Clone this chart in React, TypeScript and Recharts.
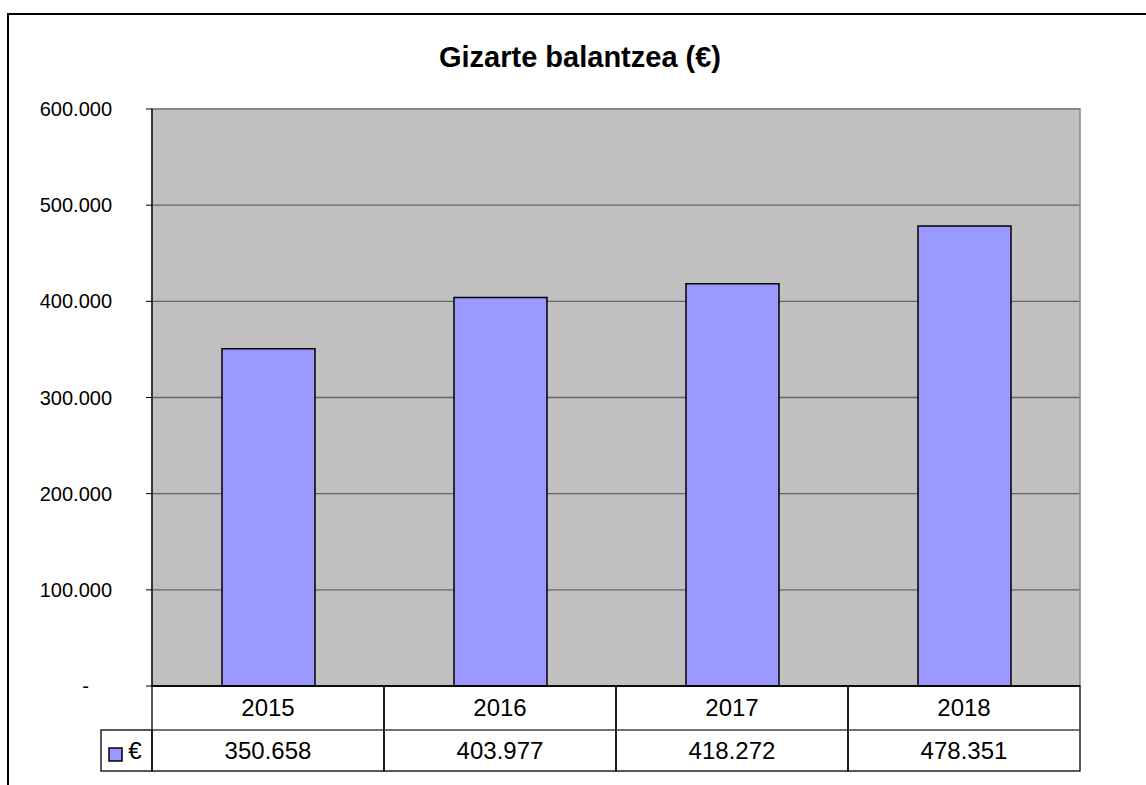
import { Bar, BarChart, CartesianGrid, ReferenceArea, XAxis, YAxis } from "recharts";

// Chart values
const years = ["2015", "2016", "2017", "2018"];
const euroValues = [350658, 403977, 418272, 478351];
const yTicks = [0, 100000, 200000, 300000, 400000, 500000, 600000];
const seriesName = "€";
const title = "Gizarte balantzea (€)";

const data = years.map((year, i) => ({ year, value: euroValues[i] }));

const FONT = "'Liberation Sans', Arial, sans-serif";
const BAR_FILL = "#9999FF";
const CHART_W = 1146;
const CHART_H = 785;
const PLOT_LEFT = 152;
const PLOT_RIGHT = 1080;
const ROW1_H = 44;
const ROW2_H = 41;
const KEY_CELL_W = 51;

const fmt = (v: number) => v.toLocaleString("de-DE");

const YTick = (props: any) => {
  const { x, y, payload } = props;
  const v = payload.value as number;
  if (v === 0) {
    return (
      <text x={x - 23} y={y} dy="0.35em" textAnchor="end" fontSize={20} fontFamily={FONT} fill="#000">
        -
      </text>
    );
  }
  return (
    <text x={x} y={y} dy="0.35em" textAnchor="end" fontSize={20} fontFamily={FONT} fill="#000">
      {fmt(v)}
    </text>
  );
};

// data table drawn under the plot, one column per category tick
const TableTick = (props: any) => {
  const { x, y, payload, index } = props;
  const band = (PLOT_RIGHT - PLOT_LEFT) / years.length;
  const left = x - band / 2;
  const value = euroValues[index];
  return (
    <g>
      <rect x={left} y={y} width={band} height={ROW1_H + ROW2_H} fill="none" stroke="#000" strokeWidth={1.3} />
      <line x1={left} x2={left + band} y1={y + ROW1_H} y2={y + ROW1_H} stroke="#444" strokeWidth={1.3} />
      <text x={x} y={y + ROW1_H / 2} dy="0.35em" textAnchor="middle" fontSize={24} fontFamily={FONT} fill="#000">
        {payload.value}
      </text>
      <text x={x} y={y + ROW1_H + ROW2_H / 2} dy="0.35em" textAnchor="middle" fontSize={24} fontFamily={FONT} fill="#000">
        {fmt(value)}
      </text>
      {index === 0 && (
        <g>
          <rect x={left - KEY_CELL_W} y={y + ROW1_H} width={KEY_CELL_W} height={ROW2_H} fill="none" stroke="#000" strokeWidth={1.3} />
          <rect x={left - 43} y={y + ROW1_H + 18} width={13} height={13} fill={BAR_FILL} stroke="#000" strokeWidth={1.5} />
          <text x={left - 17} y={y + ROW1_H + ROW2_H / 2} dy="0.35em" textAnchor="middle" fontSize={24} fontFamily={FONT} fill="#000">
            {seriesName}
          </text>
        </g>
      )}
    </g>
  );
};

const App = () => {
  return (
    <div style={{ position: "absolute", left: 0, top: 0, width: CHART_W, height: CHART_H, overflow: "hidden", background: "#fff" }}>
      <div
        style={{
          position: "absolute",
          left: 7,
          top: 13,
          width: 1300,
          height: 900,
          border: "2px solid #000",
        }}
      />
      <div
        style={{
          position: "absolute",
          left: 0,
          top: 41,
          width: 1160,
          textAlign: "center",
          fontFamily: FONT,
          fontWeight: "bold",
          fontSize: 29,
          lineHeight: "normal",
          color: "#000",
        }}
      >
        {title}
      </div>
      <div style={{ position: "absolute", left: 0, top: 0 }}>
        <BarChart width={CHART_W} height={CHART_H} data={data} margin={{ top: 109, right: CHART_W - PLOT_RIGHT, left: 0, bottom: 0 }}>
          <CartesianGrid vertical={false} fill="#C0C0C0" stroke="#666" strokeWidth={1.3} />
          <ReferenceArea y1={0} y2={600000} fill="none" stroke="#888" strokeWidth={1.5} ifOverflow="visible" />
          <XAxis
            dataKey="year"
            height={CHART_H - 686}
            interval={0}
            tickSize={0}
            tickMargin={0}
            tickLine={false}
            axisLine={{ stroke: "#000", strokeWidth: 1.3 }}
            tick={<TableTick />}
          />
          <YAxis
            width={PLOT_LEFT}
            domain={[0, 600000]}
            ticks={yTicks}
            interval={0}
            tickSize={6}
            tickMargin={34}
            tickLine={{ stroke: "#000" }}
            axisLine={{ stroke: "#000", strokeWidth: 1.3 }}
            tick={<YTick />}
          />
          <Bar dataKey="value" name={seriesName} fill={BAR_FILL} stroke="#000" strokeWidth={1.5} barSize={93} isAnimationActive={false} />
        </BarChart>
      </div>
    </div>
  );
};

export default App;
